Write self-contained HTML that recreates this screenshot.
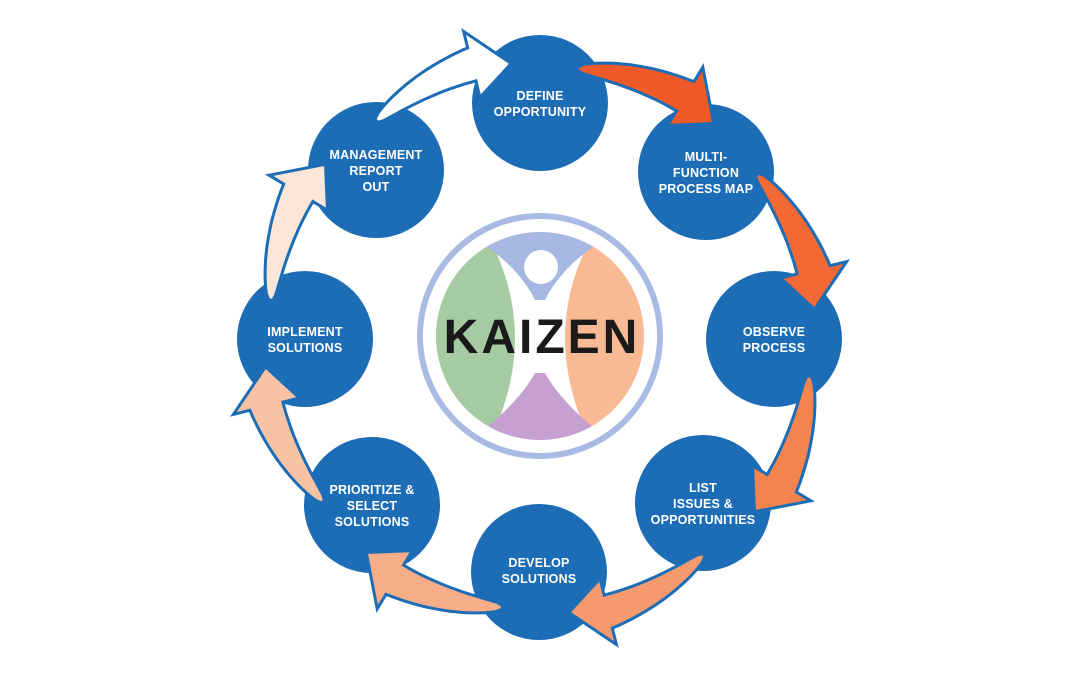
<!DOCTYPE html>
<html><head><meta charset="utf-8">
<style>
html,body{margin:0;padding:0;background:#fff;}
body{width:1080px;height:675px;overflow:hidden;position:relative;font-family:"Liberation Sans",sans-serif;}
svg{position:absolute;left:0;top:0;}
.lbl{position:absolute;width:150px;margin-left:-75px;text-align:center;color:#fff;font-weight:bold;font-size:12.5px;line-height:16px;letter-spacing:0.2px;}
</style></head><body>
<svg id="s" width="1080" height="675" viewBox="0 0 1080 675">
<g fill="#1c6db6">
<circle cx="540" cy="103" r="68"/>
<circle cx="706" cy="172" r="68"/>
<circle cx="774" cy="339" r="68"/>
<circle cx="703" cy="503" r="68"/>
<circle cx="539" cy="572" r="68"/>
<circle cx="372" cy="505" r="68"/>
<circle cx="305" cy="339" r="68"/>
<circle cx="376" cy="170" r="68"/>
</g>
<g id="arrows"></g>
<circle cx="540" cy="336" r="120" fill="#fff" stroke="#a9bbe3" stroke-width="6"/>
<defs><clipPath id="c"><circle cx="540" cy="336" r="104"/></clipPath></defs>
<g clip-path="url(#c)">
<path d="M490,240 L430,240 L430,440 L490,440 Q540,336 490,240Z" fill="#a6cba3"/>
<path d="M590,240 L650,240 L650,440 L590,440 Q540,336 590,240Z" fill="#f8b995"/>
<path d="M486,230 L594,230 L594,246 Q560,270 545,300 L535,300 Q520,270 486,246Z" fill="#a6b7e2"/>
<path d="M486,445 L594,445 L594,428 Q560,400 545,373 L535,373 Q520,400 486,428Z" fill="#c6a0d0"/>
</g>
<circle cx="541" cy="267" r="17" fill="#fff"/>
<text x="542" y="353" text-anchor="middle" font-family="Liberation Sans, sans-serif" font-weight="bold" font-size="48" letter-spacing="3" fill="#1a1a1a">KAIZEN</text>
</svg>
<div class="lbl" style="left:540px;top:88px">DEFINE<br>OPPORTUNITY</div>
<div class="lbl" style="left:706px;top:149px">MULTI-<br>FUNCTION<br>PROCESS MAP</div>
<div class="lbl" style="left:774px;top:324px">OBSERVE<br>PROCESS</div>
<div class="lbl" style="left:703px;top:480px">LIST<br>ISSUES &amp;<br>OPPORTUNITIES</div>
<div class="lbl" style="left:539px;top:555px">DEVELOP<br>SOLUTIONS</div>
<div class="lbl" style="left:372px;top:482px">PRIORITIZE &amp;<br>SELECT<br>SOLUTIONS</div>
<div class="lbl" style="left:305px;top:324px">IMPLEMENT<br>SOLUTIONS</div>
<div class="lbl" style="left:376px;top:147px">MANAGEMENT<br>REPORT<br>OUT</div>
<script>
(function(){
var cx=540,cy=338,rm=282,hw=17,hh=34;
var cols=["#f05a28","#f26936","#f4844f","#f59a6e","#f6ad88","#f8c3a5","#fce6d8","#ffffff"];
function P(r,a){a=a*Math.PI/180;return (cx+r*Math.sin(a)).toFixed(1)+","+(cy-r*Math.cos(a)).toFixed(1);}
var g=document.getElementById("arrows"),h="";
for(var k=0;k<8;k++){
 var b=k*45,a0=b+8,a1=b+31,a2=b+39;
 var outer=[],inner=[],n=20;
 for(var i=0;i<=n;i++){var t=i/n,a=a0+(a1-a0)*t,w=2+(hw-2)*Math.pow(t,0.6);
  var r0=rm-10*(1-t);
  outer.push(P(r0+w,a));inner.unshift(P(r0-w,a));}
 var pts=outer.concat([P(rm+hh,a1),P(rm-6,a2),P(rm-hh,a1)]).concat(inner);
 h+='<polygon points="'+pts.join(" ")+'" fill="'+cols[k]+'" stroke="#1c6db6" stroke-width="3" stroke-linejoin="miter"/>';
}
g.innerHTML=h;
})();
</script>
</body></html>
